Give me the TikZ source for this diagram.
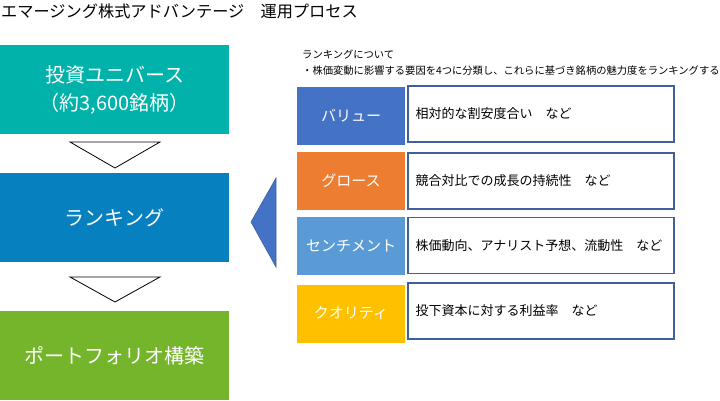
\documentclass[tikz,border=0pt]{standalone}
\usepackage{fontspec}
\setmainfont{Noto Sans CJK JP}
\begin{document}
\begin{tikzpicture}[x=1pt,y=-1pt,
  mainbox/.style={rectangle,minimum width=229pt,minimum height=89pt,inner sep=0pt,text=white,font=\fontsize{20}{28}\selectfont,align=center},
  catbox/.style={rectangle,minimum width=108pt,minimum height=58pt,inner sep=0pt,text=white,font=\fontsize{15}{18}\selectfont},
  descbox/.style={rectangle,draw=descborder,line width=1.2pt,fill=white,minimum width=266pt,minimum height=56pt,inner sep=0pt},
  desctext/.style={anchor=west,inner sep=0pt,font=\fontsize{13}{16}\selectfont},
  downtri/.style={draw=black,fill=white,line width=0.8pt},
]
\definecolor{cteal}{RGB}{0,178,170}
\definecolor{cblue}{RGB}{7,128,192}
\definecolor{cgreen}{RGB}{116,181,43}
\definecolor{cvalue}{RGB}{68,114,196}
\definecolor{corange}{RGB}{237,125,49}
\definecolor{csenti}{RGB}{91,155,213}
\definecolor{cqual}{RGB}{255,192,0}
\definecolor{descborder}{RGB}{65,96,154}
\useasboundingbox (0,0) rectangle (720,400);

\node[anchor=west,inner sep=0pt,font=\fontsize{16.2}{18}\selectfont] (title) at (1,11) {エマージング株式アドバンテージ　運用プロセス};

\node[mainbox,fill=cteal] (univ) at (114.5,89.5) {投資ユニバース\\（約3,600銘柄）};
\node[mainbox,fill=cblue] (rank) at (114.5,217.5) {ランキング};
\node[mainbox,fill=cgreen] (port) at (114.5,355.5) {ポートフォリオ構築};

\coordinate (t1a) at (70,142); \coordinate (t1b) at (160,142); \coordinate (t1c) at (115,168);
\draw[downtri] (t1a) -- (t1b) -- (t1c) -- cycle;
\coordinate (t2a) at (70,277); \coordinate (t2b) at (160,277); \coordinate (t2c) at (115,302);
\draw[downtri] (t2a) -- (t2b) -- (t2c) -- cycle;

\coordinate (lt1) at (276,178); \coordinate (lt2) at (276,267); \coordinate (lt3) at (251,222);
\draw[fill=cvalue,draw=descborder,line width=0.6pt] (lt1) -- (lt2) -- (lt3) -- cycle;

\node[anchor=west,inner sep=0pt,font=\fontsize{10.3}{12}\selectfont] (n1) at (302,55) {ランキングについて};
\node[anchor=west,inner sep=0pt,font=\fontsize{10.3}{12}\selectfont] (n2) at (302,71) {・株価変動に影響する要因を4つに分類し、これらに基づき銘柄の魅力度をランキングする};

\node[catbox,fill=cvalue] (cv) at (351,116) {バリュー};
\node[descbox] (dv) at (541,114) {};
\node[desctext] at ([xshift=8pt]dv.west) {相対的な割安度合い　など};

\node[catbox,fill=corange] (cg) at (351,181) {グロース};
\node[descbox] (dg) at (541,181) {};
\node[desctext] at ([xshift=8pt]dg.west) {競合対比での成長の持続性　など};

\node[catbox,fill=csenti] (cs) at (351,246) {センチメント};
\node[descbox] (ds) at (541,245.5) {};
\node[desctext] at ([xshift=8pt]ds.west) {株価動向、アナリスト予想、流動性　など};

\node[catbox,fill=cqual] (cq) at (351,313.5) {クオリティ};
\node[descbox] (dq) at (541,311) {};
\node[desctext] at ([xshift=8pt]dq.west) {投下資本に対する利益率　など};
\end{tikzpicture}
\end{document}
